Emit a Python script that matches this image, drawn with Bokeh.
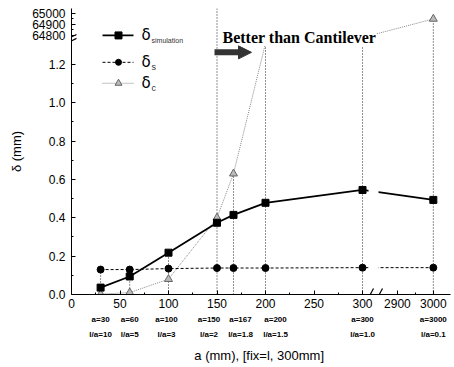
import math
from bokeh.plotting import figure
from bokeh.models import (Range1d, FixedTicker, CustomJSTickFormatter, Label,
                          Arrow, NormalHead, LinearAxis)
from bokeh.embed import file_html
from bokeh.resources import INLINE

# ---------------- data ----------------
a_vals = [30, 60, 100, 150, 167, 200, 300, 3000]
delta_sim = [0.036, 0.094, 0.218, 0.374, 0.415, 0.478, 0.545, 0.493]
delta_s = [0.13, 0.13, 0.135, 0.138, 0.138, 0.138, 0.14, 0.14]
delta_c = [0.002, 0.01, 0.08, 0.40, 0.63, 1.31, 64780, 64950]
a_labels = ["a=30", "a=60", "a=100", "a=150", "a=167", "a=200", "a=300", "a=3000"]
la_labels = ["l/a=10", "l/a=5", "l/a=3", "l/a=2", "l/a=1.8", "l/a=1.5", "l/a=1.0", "l/a=0.1"]
x_tick_vals = [0, 50, 100, 150, 200, 250, 300, 2900, 3000]
x_minor_vals = [25, 75, 125, 175, 225, 275, 2950]
y_tick_low = [0.0, 0.2, 0.4, 0.6, 0.8, 1.0, 1.2]
y_minor_low = [0.1, 0.3, 0.5, 0.7, 0.9, 1.1]
y_tick_high = [64800, 64900, 65000]
y_minor_high = [64850, 64950]

# ---------------- broken-axis transforms ----------------
XB0, XB1, XK = 2900, 336.0, 0.37
YB0, YB1, YK = 64800, 1.351, 0.000571


def tx(a):
    return a if a <= 300 else XB1 + (a - XB0) * XK


def ty(v):
    return v if v < 10 else YB1 + (v - YB0) * YK


# layout helpers (pixel -> plot coords), frame origin: x=71px, y=295px
def dx(px):
    return (px - 71) / 0.970


def dy(py):
    return (295 - py) / 192.5


X = [tx(a) for a in a_vals]
S = [ty(v) for v in delta_sim]
D = [ty(v) for v in delta_s]
C = [ty(v) for v in delta_c]

p = figure(width=452, height=365, x_range=Range1d(0, 390.7), y_range=Range1d(0, 1.491),
           output_backend="svg", toolbar_location=None,
           min_border_left=71, min_border_right=2, min_border_top=8, min_border_bottom=70)
p.outline_line_color = None
p.grid.visible = False
p.background_fill_color = "white"

# axes
p.xaxis.ticker = FixedTicker(ticks=[tx(v) for v in x_tick_vals],
                             minor_ticks=[tx(v) for v in x_minor_vals])
p.xaxis.formatter = CustomJSTickFormatter(code=f"""
if (tick > 310) {{ return String(Math.round({XB0} + (tick - {XB1})/{XK})); }}
return String(Math.round(tick));""")
p.yaxis.ticker = FixedTicker(ticks=y_tick_low + [ty(v) for v in y_tick_high],
                             minor_ticks=y_minor_low + [ty(v) for v in y_minor_high])
p.yaxis.formatter = CustomJSTickFormatter(code=f"""
if (tick > 1.3) {{ return String(Math.round(({YB0} + (tick - {YB1})/{YK})/100)*100); }}
return tick.toFixed(1);""")
for ax in (p.xaxis[0], p.yaxis[0]):
    ax.major_tick_in = 4
    ax.major_tick_out = 0
    ax.minor_tick_in = 2
    ax.minor_tick_out = 0
    ax.major_label_text_font = "Liberation Sans"
    ax.major_label_text_font_size = "12px"
    ax.major_label_text_color = "black"
    ax.axis_line_color = "black"
    ax.major_tick_line_color = "black"
    ax.minor_tick_line_color = "black"
p.xaxis.major_label_standoff = 4
p.yaxis.major_label_standoff = 6
p.yaxis.axis_label = "δ (mm)"
p.yaxis.axis_label_standoff = 5
p.yaxis.axis_label_text_font = "Liberation Sans"
p.yaxis.axis_label_text_font_size = "13px"
p.yaxis.axis_label_text_font_style = "normal"
p.yaxis.axis_label_text_color = "black"

# extra label rows below x axis: a=..., l/a=...
label_shift = [0, 0, -2, -8, 7, 10, 0, 0]
pos = [tx(a) + label_shift[i] / 0.970 for i, a in enumerate(a_vals)]
pick_code = """
let best = 0, bd = 1e9;
for (let i = 0; i < pos.length; i++) { const d = Math.abs(pos[i] - tick); if (d < bd) { bd = d; best = i; } }
return labs[best];"""
row_axes = []
for labs, standoff in ((a_labels, 4), (la_labels, 3)):
    ax = LinearAxis(ticker=FixedTicker(ticks=pos),
                    formatter=CustomJSTickFormatter(args=dict(pos=pos, labs=labs), code=pick_code))
    ax.axis_line_color = None
    ax.major_tick_line_color = None
    ax.minor_tick_line_color = None
    ax.major_tick_in = 0
    ax.major_tick_out = 0
    ax.minor_tick_in = 0
    ax.minor_tick_out = 0
    ax.major_label_standoff = standoff
    ax.major_label_text_font = "Liberation Sans"
    ax.major_label_text_font_style = "bold"
    ax.major_label_text_font_size = "8px"
    ax.major_label_text_color = "black"
    p.add_layout(ax, "below")
    row_axes.append(ax)
row_axes[-1].axis_label = "a  (mm), [fix=l, 300mm]"
row_axes[-1].axis_label_standoff = 6
row_axes[-1].axis_label_text_font = "Liberation Sans"
row_axes[-1].axis_label_text_font_size = "13px"
row_axes[-1].axis_label_text_font_style = "normal"
row_axes[-1].axis_label_text_color = "black"

# drop lines
drop_top = []
for i, a in enumerate(a_vals):
    top = max(S[i], D[i], C[i])
    if a == 150:
        top = 1.491
    drop_top.append(top)
p.segment(x0=X, y0=[0] * len(X), x1=X, y1=drop_top, line_color="#222",
          line_dash="1 2", line_width=1)

# series lines
p.line(X, C, line_color="#888", line_dash="1 1", line_width=1)
p.line(X, D, line_color="black", line_dash="3 2", line_width=1)
p.line(X, S, line_color="black", line_width=1.8)
# break gap in lines
p.quad(left=[dx(368)], right=[dx(378)], bottom=[0.012], top=[1.2],
       fill_color="white", line_color=None)

# markers
p.scatter(X, C, marker="triangle", size=8, line_color="#666", fill_color="#bbb")
p.scatter(X, D, marker="circle", size=7, color="black")
p.scatter(X, S, marker="square", size=7, color="black")

# legend (manual)
rows = [(35, "solid", "black", 1.8, "square", "simulation"),
        (62, "3 2", "black", 1.0, "circle", "s"),
        (83, "1 1", "#888", 1.0, "triangle", "c")]
for py, dash, col, lw, mk, sub in rows:
    p.line([dx(102), dx(133)], [dy(py), dy(py)], line_color=col, line_dash=dash, line_width=lw)
    if mk == "triangle":
        p.scatter([dx(118)], [dy(py)], marker=mk, size=7, line_color="#666", fill_color="#bbb")
    else:
        p.scatter([dx(118)], [dy(py)], marker=mk, size=7 if mk == "square" else 6, color="black")
    p.add_layout(Label(x=dx(141), y=dy(py), text="δ", text_font="DejaVu Sans",
                       text_font_size="15px", text_baseline="middle", text_color="black"))
    p.add_layout(Label(x=dx(151), y=dy(py + 5), text=sub, text_font="Liberation Sans",
                       text_font_size="7px" if len(sub) > 1 else "9px",
                       text_baseline="middle", text_color="#333"))

# annotation text & arrow
p.add_layout(Label(x=dx(222), y=dy(37), text="Better than Cantilever",
                   text_font="Liberation Serif", text_font_style="bold",
                   text_font_size="16px", text_baseline="alphabetic", text_color="black",
                   background_fill_color="white", background_fill_alpha=1.0))
p.add_layout(Arrow(x_start=dx(214), y_start=dy(52), x_end=dx(251), y_end=dy(52),
                   line_width=6, line_color="#333",
                   end=NormalHead(size=13, fill_color="#333", line_color="#333")))

# break marks
for x0 in (367, 376):
    p.add_layout(Arrow(x_start=dx(x0), y_start=dy(300), x_end=dx(x0 + 6), y_end=dy(289),
                       line_width=1.2, line_color="black", end=None))
for y0 in (43, 39):
    p.add_layout(Arrow(x_start=dx(66), y_start=dy(y0), x_end=dx(76), y_end=dy(y0 - 5),
                       line_width=1.2, line_color="black", end=None))

open("out.html", "w").write(file_html(p, INLINE))
